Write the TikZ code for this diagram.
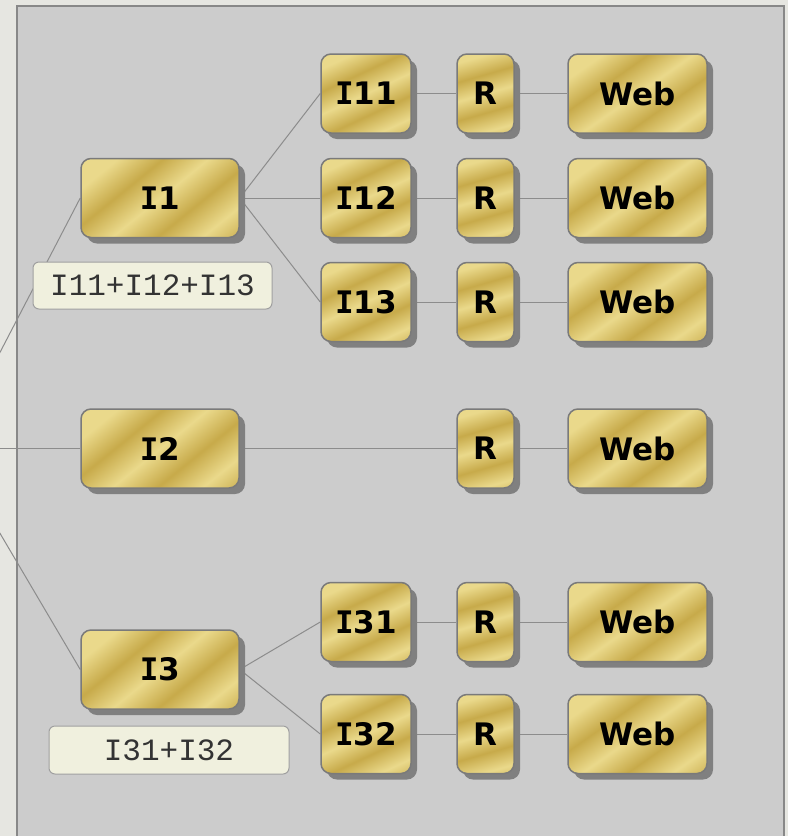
\documentclass[tikz,border=0pt]{standalone}
\usepackage{fontspec}
\newfontfamily\boxfont{DejaVu Sans}
\newfontfamily\slabfont{DejaVu Sans Mono}
\newfontfamily\labfont{Liberation Mono}
\newcommand{\slabI}{{\slabfont I}}
\usetikzlibrary{shadows}
\definecolor{outerbg}{HTML}{E6E6E1}
\definecolor{panel}{HTML}{CCCCCC}
\definecolor{panelborder}{HTML}{888888}
\definecolor{gl}{HTML}{EAD98B}
\definecolor{gd}{HTML}{C7AA4A}
\definecolor{edgec}{HTML}{8C8C8C}
\definecolor{boxborder}{HTML}{7A7A7A}
\definecolor{shadowc}{HTML}{808080}
\definecolor{labfill}{HTML}{F0F0DE}
\definecolor{labborder}{HTML}{A0A0A0}
\pgfdeclarehorizontalshading{goldstripe}{100bp}{color(0bp)=(gd); color(12.5bp)=(gl); color(25bp)=(gl); color(37.5bp)=(gd); color(50bp)=(gl); color(62.5bp)=(gd); color(75bp)=(gl); color(87.5bp)=(gd); color(100bp)=(gl)}
\pgfdeclarelayer{panellayer}
\pgfdeclarelayer{edgelayer}
\pgfsetlayers{panellayer,edgelayer,main}
\tikzset{
  goldbox/.style={draw=boxborder, line width=1.5pt, rounded corners=10pt,
    shade, shading=goldstripe,
    drop shadow={shadow xshift=6pt, shadow yshift=-6pt, fill=shadowc, opacity=1},
    inner sep=0pt, text=black,
    font=\boxfont\bfseries\fontsize{31}{31}\selectfont},
  bigbox/.style={goldbox, minimum width=158pt, minimum height=79pt, shading angle=-51},
  midbox/.style={goldbox, minimum width=90pt, minimum height=79pt, shading angle=-65},
  rbox/.style={goldbox, minimum width=57pt, minimum height=79pt, shading angle=-74},
  webbox/.style={goldbox, minimum width=139pt, minimum height=79pt, shading angle=-55},
  labbox/.style={draw=labborder, fill=labfill, line width=1pt, rounded corners=6pt,
    inner sep=0pt, text=black!80, font=\labfont\fontsize{31}{31}\selectfont},
  edgeline/.style={draw=edgec, line width=1pt}
}
\begin{document}
\begin{tikzpicture}[x=1pt,y=-1pt]
\useasboundingbox (0,0) rectangle (788,836);
\begin{pgfonlayer}{panellayer}
  \fill[outerbg] (0,0) rectangle (788,836);
  \draw[panelborder, fill=panel, line width=2pt] (17,6) rectangle (783.5,870);
\end{pgfonlayer}

% first level
\node[bigbox] (I1) at (160,198) {\slabI 1};
\node[bigbox] (I2) at (160,448.5) {\slabI 2};
\node[bigbox] (I3) at (160,669.5) {\slabI 3};

% second level
\node[midbox] (I11) at (366,93.5) {\slabI 11};
\node[midbox] (I12) at (366,198) {\slabI 12};
\node[midbox] (I13) at (366,302) {\slabI 13};
\node[midbox] (I31) at (366,622) {\slabI 31};
\node[midbox] (I32) at (366,734) {\slabI 32};

% R column
\node[rbox] (R1) at (485.5,93.5) {R};
\node[rbox] (R2) at (485.5,198) {R};
\node[rbox] (R3) at (485.5,302) {R};
\node[rbox] (R4) at (485.5,448.5) {R};
\node[rbox] (R5) at (485.5,622) {R};
\node[rbox] (R6) at (485.5,734) {R};

% Web column
\node[webbox] (W1) at (637.5,93.5) {Web};
\node[webbox] (W2) at (637.5,198) {Web};
\node[webbox] (W3) at (637.5,302) {Web};
\node[webbox] (W4) at (637.5,448.5) {Web};
\node[webbox] (W5) at (637.5,622) {Web};
\node[webbox] (W6) at (637.5,734) {Web};

% labels
\node[labbox, minimum width=239pt, minimum height=47pt] (L1) at (152.5,285.5) {I11+I12+I13};
\node[labbox, minimum width=240pt, minimum height=48pt] (L3) at (169,750) {I31+I32};

\coordinate (root) at (-50,448.5);

\begin{pgfonlayer}{edgelayer}
  \clip (0,0) rectangle (788,836);
  \draw[edgeline] (root) -- (I1.west);
  \draw[edgeline] (root) -- (I2.west);
  \draw[edgeline] (root) -- (I3.west);
  \draw[edgeline] (I1.east) -- (I11.west);
  \draw[edgeline] (I1.east) -- (I12.west);
  \draw[edgeline] (I1.east) -- (I13.west);
  \draw[edgeline] (I2.east) -- (R4.west);
  \draw[edgeline] (I3.east) -- (I31.west);
  \draw[edgeline] (I3.east) -- (I32.west);
  \draw[edgeline] (I11.east) -- (R1.west);
  \draw[edgeline] (I12.east) -- (R2.west);
  \draw[edgeline] (I13.east) -- (R3.west);
  \draw[edgeline] (I31.east) -- (R5.west);
  \draw[edgeline] (I32.east) -- (R6.west);
  \draw[edgeline] (R1.east) -- (W1.west);
  \draw[edgeline] (R2.east) -- (W2.west);
  \draw[edgeline] (R3.east) -- (W3.west);
  \draw[edgeline] (R4.east) -- (W4.west);
  \draw[edgeline] (R5.east) -- (W5.west);
  \draw[edgeline] (R6.east) -- (W6.west);
\end{pgfonlayer}
\end{tikzpicture}
\end{document}
